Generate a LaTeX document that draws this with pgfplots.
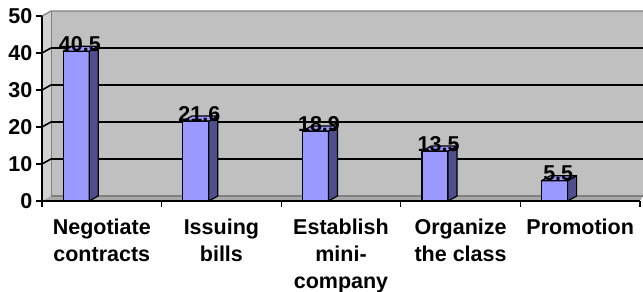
\documentclass[border=0pt]{standalone}
\usepackage{pgfplots}
\pgfplotsset{compat=1.18}
\usepackage{pgfplotstable}
\usepackage{fontspec}
\setmainfont{Liberation Sans}
\definecolor{barfront}{HTML}{9999FF}
\definecolor{barside}{HTML}{4F4F8F}
\definecolor{wall}{HTML}{C0C0C0}
\definecolor{sidewall}{HTML}{D2D2D2}
\definecolor{floorc}{HTML}{A8A8A8}
\definecolor{edgegray}{HTML}{808080}
\pgfdeclareplotmark{blank}{}
\pgfplotstableread{
x y
0 40.5
1 21.6
2 18.9
3 13.5
4 5.5
}\datatable
\newcommand\lblfont{\bfseries\fontsize{21.5}{27}\selectfont}
\begin{document}
\begin{tikzpicture}
\begin{axis}[name=ax, scale only axis, width=598pt, height=185pt,
  xmin=-0.5, xmax=4.5, ymin=0, ymax=50, clip=false, axis on top,
  axis lines=left, axis line style={-, black, line width=1.6pt},
  ytick={0,10,...,50}, xtick={0,...,4},
  xticklabels={{Negotiate\\contracts},{Issuing\\bills},{Establish\\mini-\\company},{Organize\\the class},{Promotion}},
  minor xtick={-0.5,0.5,...,4.5},
  tick align=outside, major tick length=6pt, minor tick length=6pt,
  tick style={black, line width=1.2pt},
  major x tick style={draw=none},
  /pgf/number format/assume math mode=true,
  ticklabel style={font=\lblfont},
  xticklabel style={align=center, inner sep=0pt, yshift=-11.5pt},
  yticklabel style={inner sep=3.5pt},
]
% side wall, back wall, floor
\fill[sidewall] (axis cs:-0.5,0) -- ([shift={(9pt,5pt)}]axis cs:-0.5,0) -- ([shift={(9pt,5pt)}]axis cs:-0.5,50) -- (axis cs:-0.5,50) -- cycle;
\fill[wall] ([shift={(9pt,5pt)}]axis cs:-0.5,0) rectangle ([shift={(3pt,5pt)}]axis cs:4.5,50);
\fill[floorc] (axis cs:-0.5,0) -- ([shift={(9pt,5pt)}]axis cs:-0.5,0) -- ([shift={(3pt,5pt)}]axis cs:4.5,0) -- (axis cs:4.5,0) -- cycle;
\draw[edgegray, line width=1.2pt] ([shift={(9pt,5pt)}]axis cs:-0.5,0) -- ([shift={(3pt,5pt)}]axis cs:4.5,0);
\draw[edgegray, line width=1.2pt] (axis cs:-0.5,50) -- ([shift={(9pt,5pt)}]axis cs:-0.5,50) -- ([shift={(3pt,5pt)}]axis cs:4.5,50);
\draw[edgegray, line width=0.8pt] ([shift={(9pt,5pt)}]axis cs:-0.5,0) -- ([shift={(9pt,5pt)}]axis cs:-0.5,50);
\pgfplotsinvokeforeach{10,20,30,40}{
  \draw[black, line width=1.6pt] (axis cs:-0.5,#1) -- ([shift={(9pt,5pt)}]axis cs:-0.5,#1) -- ([shift={(3pt,5pt)}]axis cs:4.5,#1);
}
% front faces
\addplot[ybar, bar width=26pt, bar shift=-25.6pt, fill=barfront, draw=black, line width=1.2pt] table[x=x,y=y]{\datatable};
% side and top faces
\addplot[only marks, mark=blank, scatter,
  visualization depends on={\thisrow{y} \as \yv},
  scatter/@pre marker code/.code={
    \pgfmathsetlengthmacro\hh{\yv*3.7pt}
    \filldraw[fill=barside, draw=black, line width=1.2pt, line join=round] (-12.6pt,0pt) -- (-3.6pt,5pt) -- (-3.6pt,5pt-\hh) -- (-12.6pt,-\hh) -- cycle;
    \filldraw[fill=barfront, draw=black, line width=1.2pt, line join=round] (-38.6pt,0pt) -- (-29.6pt,5pt) -- (-3.6pt,5pt) -- (-12.6pt,0pt) -- cycle;
  },
  scatter/@post marker code/.code={},
] table[x=x,y=y]{\datatable};
% value labels
\addplot[only marks, mark=blank,
  nodes near coords,
  every node near coord/.append style={font=\lblfont, anchor=base, xshift=-22pt, inner sep=0pt, text=black},
] table[x=x,y=y]{\datatable};
\end{axis}
\pgfresetboundingbox
\path ([shift={(-42pt,-91pt)}]ax.south west) rectangle ([shift={(3pt,16pt)}]ax.north east);
\end{tikzpicture}
\end{document}
